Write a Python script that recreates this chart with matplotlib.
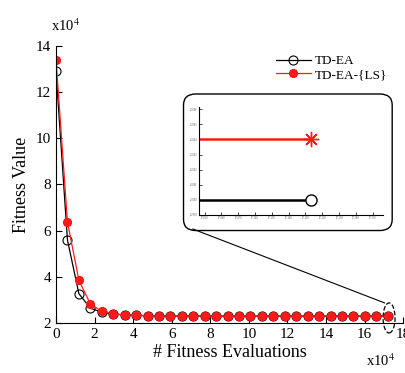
import numpy as np
import matplotlib.pyplot as plt
from matplotlib.patches import FancyBboxPatch, Ellipse
from matplotlib.lines import Line2D
from matplotlib.ticker import MaxNLocator, FormatStrFormatter

plt.rcParams['font.family'] = ['Liberation Serif', 'DejaVu Serif']
plt.rcParams['mathtext.fontset'] = 'stix'

# fitness evaluations (x10^4) and fitness values (x10^4)
evals = [0.0, 0.593, 1.186, 1.779, 2.372, 2.966, 3.559, 4.152, 4.745, 5.338,
         5.931, 6.524, 7.117, 7.710, 8.303, 8.897, 9.490, 10.083, 10.676, 11.269,
         11.862, 12.455, 13.048, 13.641, 14.234, 14.828, 15.421, 16.014, 16.607, 17.200]
td_ea = [12.90, 5.59, 3.27, 2.64, 2.47, 2.39, 2.35, 2.33, 2.32, 2.31,
         2.305, 2.303, 2.302, 2.301, 2.3005, 2.3003, 2.3002, 2.3001, 2.3001, 2.3000,
         2.3000, 2.3000, 2.3000, 2.3000, 2.3000, 2.3000, 2.3000, 2.3000, 2.3000, 2.3000]
td_ea_ls = [13.40, 6.37, 3.85, 2.83, 2.50, 2.40, 2.35, 2.33, 2.32, 2.31,
            2.305, 2.303, 2.302, 2.301, 2.3007, 2.3006, 2.3005, 2.3005, 2.3004, 2.3004,
            2.3004, 2.3004, 2.3004, 2.3004, 2.3004, 2.3004, 2.3004, 2.3004, 2.3004, 2.3004]
x_ticks = [0, 2, 4, 6, 8, 10, 12, 14, 16, 18]
y_ticks = [2, 4, 6, 8, 10, 12, 14]

star = (8, 2, 0)

fig = plt.figure(figsize=(4.06, 3.73), dpi=100)
ax = fig.add_axes([0.138, 0.134, 0.855, 0.743])
ax.plot(evals, td_ea, color='black', lw=0.9, marker='o', ms=6.5, mfc='none',
        mec='black', mew=0.8, label='TD-EA')
ax.plot(evals, td_ea_ls, color='#ff1a1a', lw=0.9, marker=star, ms=6.5,
        mec='#ff1a1a', mew=1.8, label='TD-EA-{LS}')
ax.set_xlim(0, 18)
ax.set_ylim(2, 14)
ax.set_xticks(x_ticks)
ax.set_yticks(y_ticks)
ax.tick_params(direction='in', labelsize=11, length=4)
for s in ['top', 'right']:
    ax.spines[s].set_visible(False)
ax.set_xlabel('# Fitness Evaluations', fontsize=13, labelpad=2)
ax.set_ylabel('Fitness Value', fontsize=13, labelpad=4)
fig.text(0.125, 0.918, r'x10$^{4}$', fontsize=10.5)
fig.text(0.902, 0.02, r'x10$^{4}$', fontsize=10.5)
ax.legend(loc='upper right', bbox_to_anchor=(0.98, 1.0), frameon=False,
          fontsize=9.5, handlelength=2.6, labelspacing=0.1, borderpad=0.2,
          handletextpad=0.3)

# zoom marker around the last point
ell = Ellipse((17.27, 2.22), 0.62, 1.3, fill=False, ls='--', lw=0.9,
              color='black', clip_on=False)
ax.add_patch(ell)

# inset box and connector
box = FancyBboxPatch((0.47, 0.40), 0.478, 0.33,
                     boxstyle='round,pad=0.018,rounding_size=0.03',
                     transform=fig.transFigure, fill=False, lw=1.0,
                     ec='black', zorder=3)
fig.patches.append(box)
fig.lines.append(Line2D([0.475, 0.947], [0.386, 0.188], color='black', lw=0.8,
                        transform=fig.transFigure))

ins = fig.add_axes([0.490, 0.4236, 0.453, 0.2895])
ins.plot(evals, td_ea, color='black', lw=1.8, marker='o', ms=8, mfc='white',
         mec='black', mew=1.0, markevery=[len(evals) - 1])
ins.plot(evals, td_ea_ls, color='#ff1a1a', lw=1.8, marker=star, ms=11,
         mec='#ff1a1a', mew=1.0, markevery=[len(evals) - 1])
ins.set_xlim(17.0, 17.328)
ins.set_ylim(2.2999, 2.300614)
ins.xaxis.set_major_locator(MaxNLocator(11))
ins.yaxis.set_major_locator(MaxNLocator(8))
ins.xaxis.set_major_formatter(FormatStrFormatter('%.3f'))
ins.yaxis.set_major_formatter(FormatStrFormatter('%.4f'))
ins.tick_params(direction='in', labelsize=2, length=2, width=0.5,
                labelcolor='#555555', pad=1)
for s in ['top', 'right']:
    ins.spines[s].set_visible(False)
ins.patch.set_alpha(0)

fig.savefig('out.png', dpi=100)
